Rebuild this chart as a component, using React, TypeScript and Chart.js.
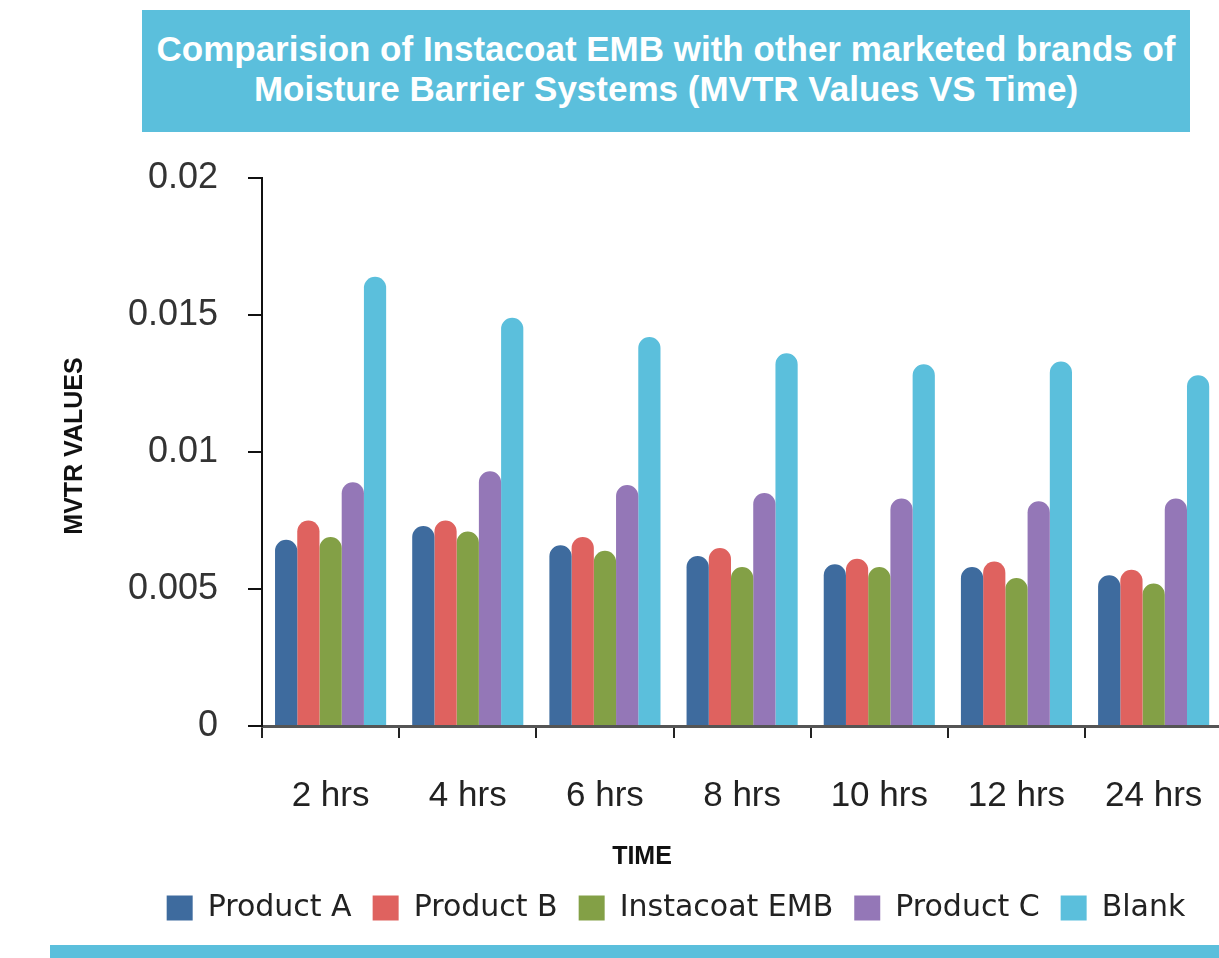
import React, { useEffect, useRef } from "react";
import { Chart, registerables } from "chart.js";

Chart.register(...registerables);

const TIME_LABELS = ["2 hrs", "4 hrs", "6 hrs", "8 hrs", "10 hrs", "12 hrs", "24 hrs"];
const PRODUCT_A = [0.0068, 0.0073, 0.0066, 0.0062, 0.0059, 0.0058, 0.0055];
const PRODUCT_B = [0.0075, 0.0075, 0.0069, 0.0065, 0.0061, 0.006, 0.0057];
const INSTACOAT_EMB = [0.0069, 0.0071, 0.0064, 0.0058, 0.0058, 0.0054, 0.0052];
const PRODUCT_C = [0.0089, 0.0093, 0.0088, 0.0085, 0.0083, 0.0082, 0.0083];
const BLANK = [0.0164, 0.0149, 0.0142, 0.0136, 0.0132, 0.0133, 0.0128];
const Y_TICK_LABELS = ["0", "0.005", "0.01", "0.015", "0.02"];

const SERIES_NAMES = ["Product A", "Product B", "Instacoat EMB", "Product C", "Blank"];
const SERIES_COLORS = ["#3e6b9e", "#df625f", "#83a046", "#9477b7", "#5bbfdc"];
const TITLE_LINES = [
  "Comparision of Instacoat EMB with other marketed brands of",
  "Moisture Barrier Systems (MVTR Values VS Time)",
];
const Y_AXIS_TITLE = "MVTR VALUES";
const X_AXIS_TITLE = "TIME";

const axisTitlesPlugin = {
  id: "axisTitles",
  afterDraw(chart: any) {
    const { ctx } = chart;
    ctx.save();
    ctx.fillStyle = "#111";
    ctx.font = "bold 25px 'Liberation Sans', Arial, sans-serif";
    ctx.textAlign = "center";
    ctx.textBaseline = "middle";
    ctx.translate(75, 306);
    ctx.rotate(-Math.PI / 2);
    ctx.fillText(Y_AXIS_TITLE, 0, 0);
    ctx.restore();
    ctx.save();
    ctx.fillStyle = "#111";
    ctx.font = "bold 25px 'Liberation Sans', Arial, sans-serif";
    ctx.textAlign = "center";
    ctx.textBaseline = "middle";
    ctx.fillText(X_AXIS_TITLE, 642, 717);
    ctx.restore();
  },
};

export default function App() {
  const canvasRef = useRef<HTMLCanvasElement | null>(null);

  useEffect(() => {
    const seriesData = [PRODUCT_A, PRODUCT_B, INSTACOAT_EMB, PRODUCT_C, BLANK];
    const chart = new Chart(canvasRef.current as HTMLCanvasElement, {
      type: "bar",
      data: {
        labels: TIME_LABELS,
        datasets: seriesData.map((d, i) => ({
          label: SERIES_NAMES[i],
          data: d,
          backgroundColor: SERIES_COLORS[i],
          borderWidth: 0,
          borderRadius: 12,
          borderSkipped: "start",
          categoryPercentage: 0.81,
          barPercentage: 1.0,
        })),
      },
      options: {
        animation: false,
        responsive: false,
        maintainAspectRatio: false,
        layout: { padding: { left: 122, right: 10, top: 38, bottom: 0 } },
        plugins: {
          tooltip: { enabled: false },
          title: { display: false },
          legend: {
            display: true,
            position: "bottom",
            labels: {
              boxWidth: 26,
              boxHeight: 25,
              padding: 21,
              color: "#222",
              font: { family: "'DejaVu Sans', sans-serif", size: 30 },
            },
          },
        },
        scales: {
          x: {
            afterFit: (scale: any) => {
              scale.height = 146;
            },
            grid: {
              display: true,
              drawOnChartArea: false,
              drawTicks: true,
              tickLength: 12,
              color: "#222",
              lineWidth: 2,
              offset: true,
            },
            border: { display: true, color: "#555", width: 3 },
            ticks: {
              color: "#222",
              padding: 37,
              maxRotation: 0,
              font: { family: "'Liberation Sans', Arial, sans-serif", size: 35 },
            },
          },
          y: {
            min: 0,
            max: 0.02,
            afterFit: (scale: any) => {
              scale.width = 140;
              scale.paddingTop = 0;
              scale.paddingBottom = 0;
            },
            grid: {
              display: true,
              drawOnChartArea: false,
              drawTicks: true,
              tickLength: 14,
              color: "#111",
              lineWidth: 2,
            },
            border: { display: true, color: "#111", width: 2 },
            ticks: {
              stepSize: 0.005,
              padding: 30,
              color: "#333",
              font: { family: "'Liberation Sans', Arial, sans-serif", size: 36 },
              callback: (_v: any, i: number) => Y_TICK_LABELS[i],
            },
          },
        },
      },
      plugins: [axisTitlesPlugin],
    });
    return () => chart.destroy();
  }, []);

  return (
    <div
      style={{
        position: "fixed",
        left: 0,
        top: 0,
        width: 1219,
        height: 958,
        overflow: "hidden",
        background: "#ffffff",
      }}
    >
      <div
        style={{
          position: "absolute",
          left: 142,
          top: 10,
          width: 1048,
          height: 122,
          background: "#5bbfdc",
          color: "#ffffff",
          fontFamily: "'Liberation Sans', Arial, sans-serif",
          fontWeight: "bold",
          fontSize: 35,
          lineHeight: "40px",
          textAlign: "center",
          whiteSpace: "nowrap",
          paddingTop: 19,
          boxSizing: "border-box",
        }}
      >
        {TITLE_LINES[0]}
        <br />
        {TITLE_LINES[1]}
      </div>
      <canvas
        ref={canvasRef}
        width={1240}
        height={793}
        style={{ position: "absolute", left: 0, top: 140, width: 1240, height: 793 }}
      />
      <div
        style={{
          position: "absolute",
          left: 50,
          top: 945,
          width: 1169,
          height: 13,
          background: "#5bbfdc",
        }}
      />
    </div>
  );
}
